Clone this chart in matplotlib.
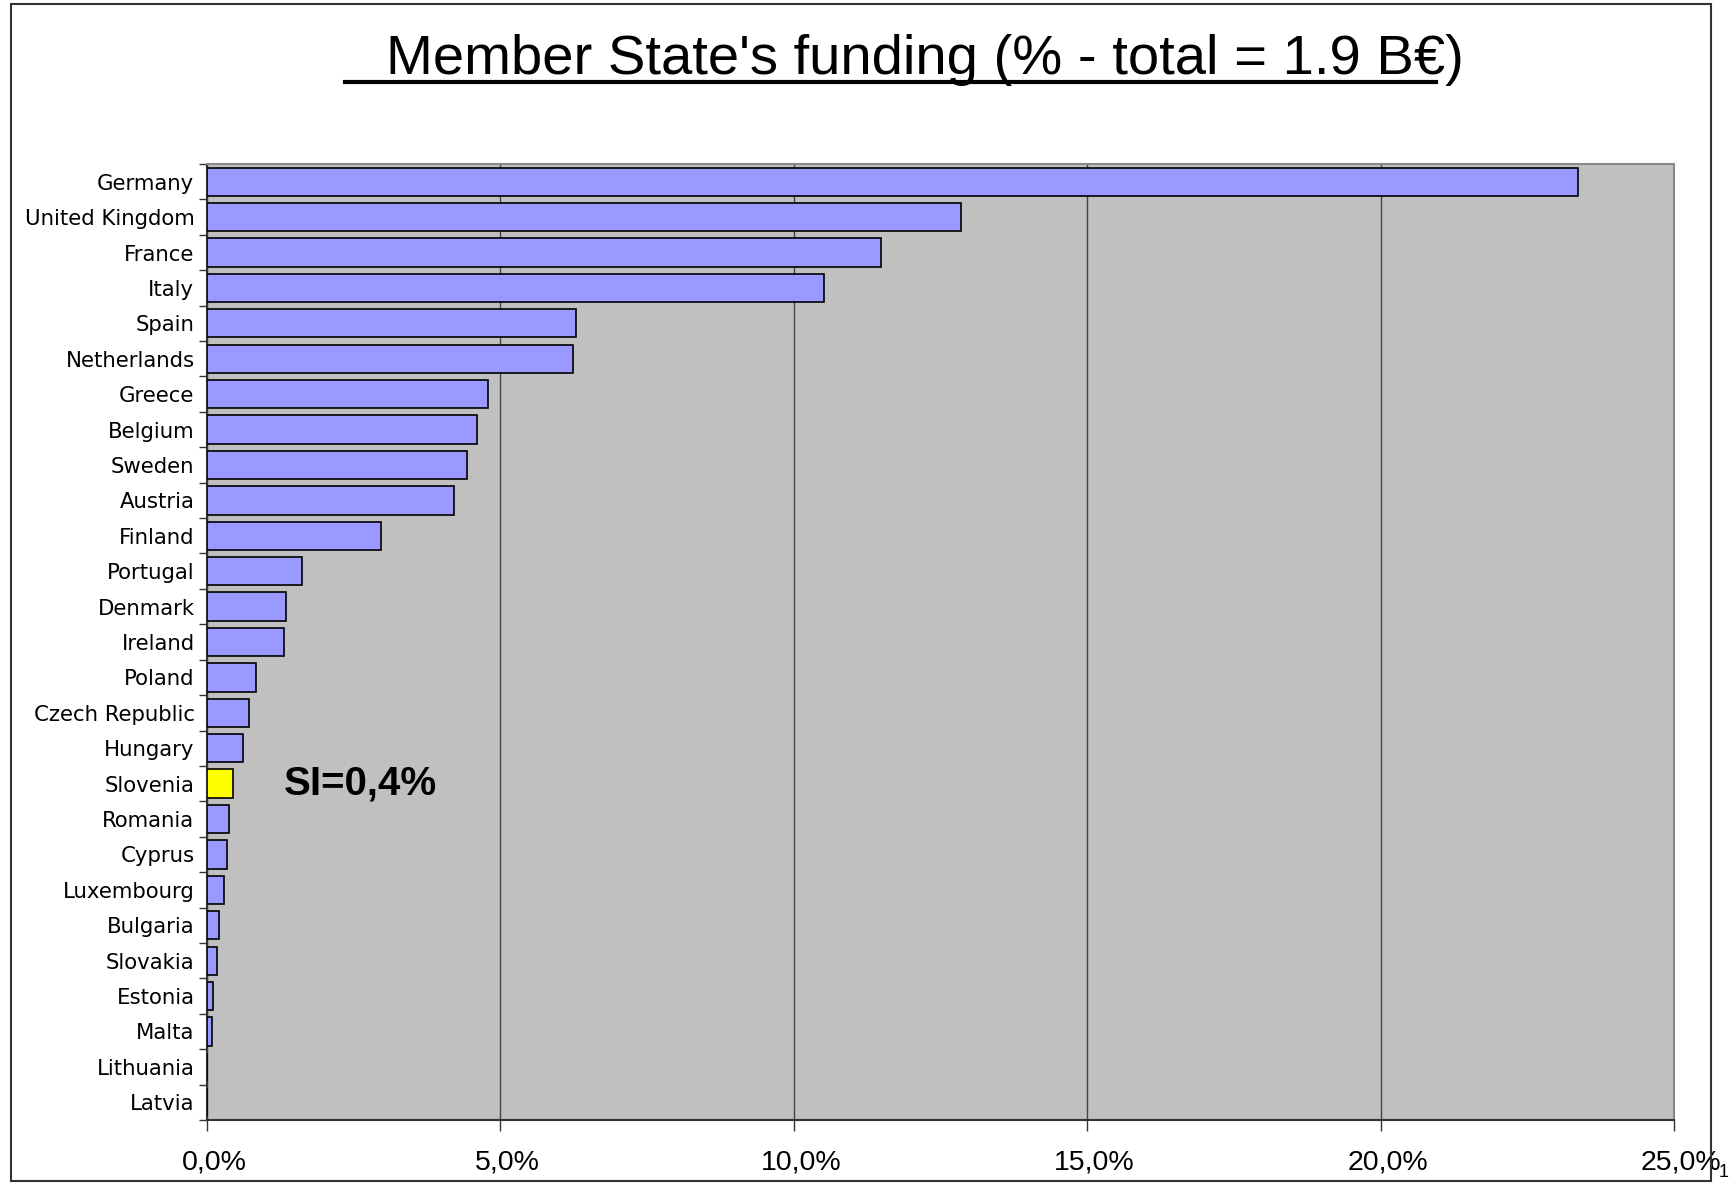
import numpy as np
import matplotlib.pyplot as plt
import matplotlib.transforms as mtransforms
from matplotlib.lines import Line2D
from matplotlib.patches import Rectangle
from matplotlib.ticker import FixedLocator

countries = ['Germany', 'United Kingdom', 'France', 'Italy', 'Spain', 'Netherlands',
             'Greece', 'Belgium', 'Sweden', 'Austria', 'Finland', 'Portugal',
             'Denmark', 'Ireland', 'Poland', 'Czech Republic', 'Hungary', 'Slovenia',
             'Romania', 'Cyprus', 'Luxembourg', 'Bulgaria', 'Slovakia', 'Estonia',
             'Malta', 'Lithuania', 'Latvia']
share = [23.37, 12.85, 11.48, 10.52, 6.29, 6.24,
         4.79, 4.60, 4.43, 4.21, 2.97, 1.62,
         1.35, 1.31, 0.83, 0.71, 0.61, 0.44,
         0.38, 0.34, 0.29, 0.21, 0.175, 0.11,
         0.078, 0.0, 0.0]
xticks = [0, 5, 10, 15, 20, 25]
xlabels = ['0,0%', '5,0%', '10,0%', '15,0%', '20,0%', '25,0%']

colors = ['#FFFF00' if c == 'Slovenia' else '#9999FF' for c in countries]

fig = plt.figure(figsize=(17.29, 11.83), dpi=100)
W, H = 1729, 1183
ax = fig.add_axes([207 / W, 1 - 1120 / H, (1674 - 207) / W, (1120 - 164) / H])
ax.set_facecolor('#C0C0C0')

y = np.arange(len(countries))
ax.barh(y, share, height=0.8, color=colors, edgecolor='black', linewidth=1.2, zorder=3)
ax.set_ylim(len(countries) - 0.5, -0.5)
ax.set_xlim(0, 25)

ax.set_yticks(y)
ax.set_yticklabels(countries, fontname='DejaVu Sans', fontsize=15.3)
ax.tick_params(axis='y', which='major', length=0, pad=9)
ax.yaxis.set_minor_locator(FixedLocator(np.arange(-0.5, len(countries), 1)))
ax.tick_params(axis='y', which='minor', length=6, width=1, color='#333333', direction='out')

ax.set_xticks(xticks)
ax.set_xticklabels(xlabels, fontname='Liberation Sans', fontsize=20.5)
ax.tick_params(axis='x', length=8, width=1, color='#333333', direction='out', pad=13)
# labels sit slightly right of their ticks in the original
shift = mtransforms.ScaledTranslation(7 / 100, 0, fig.dpi_scale_trans)
for lab in ax.get_xticklabels():
    lab.set_transform(lab.get_transform() + shift)
ax.xaxis.grid(True, color='#444444', linewidth=1, zorder=1)
ax.set_axisbelow(True)

for s in ['top', 'right']:
    ax.spines[s].set_color('#888888')
    ax.spines[s].set_linewidth(1.5)
for s in ['left', 'bottom']:
    ax.spines[s].set_color('#333333')
    ax.spines[s].set_linewidth(1.5)

ax.text(1.31, 17, 'SI=0,4%', fontname='Liberation Sans', fontweight='bold',
        fontsize=29, va='center', ha='left', zorder=4)

# title with underline
fig.text(386 / W, 1 - 60 / H, "Member State's funding (% - total = 1.9 B€)",
         fontname='Liberation Sans', fontsize=40.5, ha='left', va='center')
fig.add_artist(Line2D([345 / W, 1436 / W], [1 - 82 / H, 1 - 82 / H],
                      color='black', linewidth=3, transform=fig.transFigure))

# outer frame
fig.add_artist(Rectangle((11 / W, 1 - 1181 / H), 1700 / W, 1177 / H,
                         fill=False, edgecolor='#333333', linewidth=1.5,
                         transform=fig.transFigure))
# page number
fig.text(1719 / W, 1 - 1181 / H, '1', fontname='Liberation Sans', fontsize=13,
         ha='left', va='bottom')

fig.savefig('out.png', dpi=100)
